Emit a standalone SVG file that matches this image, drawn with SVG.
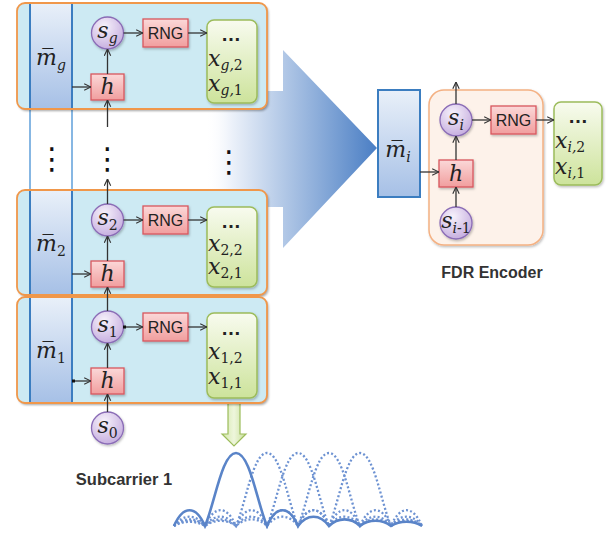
<svg xmlns="http://www.w3.org/2000/svg" width="613" height="536" viewBox="0 0 613 536">
<style>
.blk{fill:#cdeaf3}
.blkb{fill:none;stroke:#f0974a;stroke-width:1.8}
.col{fill:url(#colG);stroke:#3b7dc0;stroke-width:2}
.rng{fill:url(#pinkG);stroke:#d8575e;stroke-width:1.3;filter:url(#sm)}
.cir{fill:url(#purG);stroke:#8a6cb6;stroke-width:1.3;filter:url(#sm)}
.grn{fill:url(#grnG);stroke:#9cbc5b;stroke-width:1.5;filter:url(#sm)}
.lbl{font-family:"Liberation Sans",Arial,sans-serif;font-size:16px;fill:#222}
.bold{font-family:"Liberation Sans",Arial,sans-serif;font-weight:bold;fill:#333}
.mi{font-family:"DejaVu Serif","Liberation Serif",serif;font-style:italic;font-size:22px;fill:#222}
.sub{font-size:14px}
.up{font-style:normal}
.ell{font-family:"Liberation Sans",Arial,sans-serif;font-weight:bold;font-size:20px;fill:#222}
.vd{font-family:"DejaVu Sans",sans-serif;font-size:30px;fill:#111}
.cn{fill:none;stroke:#333;stroke-width:1.3;marker-end:url(#ah)}
.wv{fill:none;stroke:#5a84c8;stroke-width:2.6}
.wd{fill:none;stroke:#6d92d2;stroke-width:2.3;stroke-dasharray:2 2.2}
</style>
<defs>
<linearGradient id="colG" x1="0" y1="0" x2="0" y2="1"><stop offset="0" stop-color="#e9f0f9"/><stop offset="1" stop-color="#a6c0e6"/></linearGradient>
<linearGradient id="pinkG" x1="0" y1="0" x2="0" y2="1"><stop offset="0" stop-color="#fbd8d8"/><stop offset="1" stop-color="#f19e9e"/></linearGradient>
<radialGradient id="purG" cx="0.4" cy="0.3" r="0.8"><stop offset="0" stop-color="#f7f2fb"/><stop offset="1" stop-color="#c0a6dc"/></radialGradient>
<linearGradient id="grnG" x1="0" y1="0" x2="0" y2="1"><stop offset="0" stop-color="#f8fbef"/><stop offset="1" stop-color="#cde39b"/></linearGradient>
<linearGradient id="garrG" x1="0" y1="0" x2="1" y2="0"><stop offset="0" stop-color="#d2e6a8"/><stop offset="0.5" stop-color="#eef6dc"/><stop offset="1" stop-color="#c8df98"/></linearGradient>
<linearGradient id="bigG" gradientUnits="userSpaceOnUse" x1="205" y1="0" x2="377" y2="0"><stop offset="0" stop-color="#ffffff" stop-opacity="0"/><stop offset="0.15" stop-color="#edf2fa"/><stop offset="1" stop-color="#4a7ec4"/></linearGradient>
<filter id="sh" x="-5%" y="-5%" width="112%" height="120%"><feDropShadow dx="1.5" dy="2" stdDeviation="1.3" flood-color="#000" flood-opacity="0.35"/></filter>
<filter id="sm" x="-20%" y="-20%" width="150%" height="150%"><feDropShadow dx="1" dy="1.5" stdDeviation="0.8" flood-color="#000" flood-opacity="0.25"/></filter>
<marker id="ah" viewBox="0 0 10 10" refX="9.5" refY="5" markerWidth="8" markerHeight="8" markerUnits="userSpaceOnUse" orient="auto"><path d="M1,1 L9.5,5 L1,9" fill="none" stroke="#333" stroke-width="1.4"/></marker>
</defs>
<rect width="613" height="536" fill="#ffffff"/>

<g id="big-arrow"><polygon points="110,91 283,91 283,50 377,148 283,248 283,207 110,207" fill="url(#bigG)"/></g>

<g id="column-outline"><rect x="30" y="3" width="42" height="400" fill="none" stroke="#6aa6dc" stroke-width="1.6"/></g>

<g id="green-arrow"><polygon points="228,400 240,400 240,434 246,434 234,446 222,434 228,434" fill="url(#garrG)" stroke="#9cbc5b" stroke-width="1.2"/></g>

<g id="block-g" transform="translate(0,3)">
<rect class="blk" x="17" y="0" width="250" height="106" rx="8" filter="url(#sh)"/>
<rect class="col" x="30" y="0" width="42" height="106"/>
<rect class="blkb" x="17" y="0" width="250" height="106" rx="8"/>
<text class="mi" x="51" y="62" text-anchor="middle">m&#x305;<tspan class="sub" dy="5">g</tspan></text>
<circle class="cir" cx="107.5" cy="30" r="16"/>
<text class="mi" x="107.5" y="35" text-anchor="middle">s<tspan class="sub" dy="5">g</tspan></text>
<rect class="rng" x="143" y="16" width="45" height="28"/>
<text class="lbl" x="165.5" y="36" text-anchor="middle">RNG</text>
<rect class="rng" x="91" y="71" width="33" height="26"/>
<text class="mi" x="107.5" y="91" text-anchor="middle">h</text>
<rect class="grn" x="207" y="17" width="50" height="83" rx="7"/>
<text class="ell" x="231" y="38" text-anchor="middle">…</text>
<text class="mi" x="208" y="63">x<tspan class="sub" dy="4">g,<tspan class="up">2</tspan></tspan></text>
<text class="mi" x="208" y="88">x<tspan class="sub" dy="4">g,<tspan class="up">1</tspan></tspan></text>
</g>

<g id="gap-dots">
<text class="vd" x="52" y="169" text-anchor="middle">⋮</text>
<text class="vd" x="107.5" y="169" text-anchor="middle">⋮</text>
<text class="vd" x="229" y="172" text-anchor="middle">⋮</text>
</g>

<g id="block-2" transform="translate(0,190)">
<rect class="blk" x="17" y="0" width="250" height="105" rx="8" filter="url(#sh)"/>
<rect class="col" x="30" y="0" width="42" height="105"/>
<rect class="blkb" x="17" y="0" width="250" height="105" rx="8"/>
<text class="mi" x="51" y="61" text-anchor="middle">m&#x305;<tspan class="sub up" dy="5">2</tspan></text>
<circle class="cir" cx="107.5" cy="30" r="16"/>
<text class="mi" x="107.5" y="35" text-anchor="middle">s<tspan class="sub up" dy="5">2</tspan></text>
<rect class="rng" x="143" y="16" width="45" height="28"/>
<text class="lbl" x="165.5" y="36" text-anchor="middle">RNG</text>
<rect class="rng" x="91" y="71" width="33" height="26"/>
<text class="mi" x="107.5" y="91" text-anchor="middle">h</text>
<rect class="grn" x="207" y="17" width="50" height="80" rx="7"/>
<text class="ell" x="231" y="38" text-anchor="middle">…</text>
<text class="mi" x="208" y="61">x<tspan class="sub up" dy="4">2,2</tspan></text>
<text class="mi" x="208" y="84">x<tspan class="sub up" dy="4">2,1</tspan></text>
</g>

<g id="block-1" transform="translate(0,297)">
<rect class="blk" x="17" y="0" width="250" height="106" rx="8" filter="url(#sh)"/>
<rect class="col" x="30" y="0" width="42" height="106"/>
<rect class="blkb" x="17" y="0" width="250" height="106" rx="8"/>
<text class="mi" x="51" y="61" text-anchor="middle">m&#x305;<tspan class="sub up" dy="5">1</tspan></text>
<circle class="cir" cx="107.5" cy="30" r="16"/>
<text class="mi" x="107.5" y="35" text-anchor="middle">s<tspan class="sub up" dy="5">1</tspan></text>
<rect class="rng" x="143" y="16" width="45" height="28"/>
<text class="lbl" x="165.5" y="36" text-anchor="middle">RNG</text>
<rect class="rng" x="91" y="71" width="33" height="26"/>
<text class="mi" x="107.5" y="91" text-anchor="middle">h</text>
<rect class="grn" x="207" y="16" width="50" height="85" rx="7"/>
<text class="ell" x="231" y="38" text-anchor="middle">…</text>
<text class="mi" x="208" y="62">x<tspan class="sub up" dy="4">1,2</tspan></text>
<text class="mi" x="208" y="87">x<tspan class="sub up" dy="4">1,1</tspan></text>
</g>

<g id="s0">
<circle class="cir" cx="107.5" cy="428" r="16"/>
<text class="mi" x="107.5" y="433" text-anchor="middle">s<tspan class="sub up" dy="5">0</tspan></text>
</g>

<g id="m-i">
<rect class="col" x="378" y="90" width="42" height="107"/>
<text class="mi" x="398" y="157" text-anchor="middle">m&#x305;<tspan class="sub" dy="5">i</tspan></text>
</g>

<g id="fdr-encoder">
<rect x="429" y="90" width="114" height="155" rx="15" fill="#fdf2ea" stroke="#f4b183" stroke-width="1.5" filter="url(#sm)"/>
<circle class="cir" cx="456" cy="120" r="16"/>
<text class="mi" x="456" y="125" text-anchor="middle">s<tspan class="sub" dy="5">i</tspan></text>
<rect class="rng" x="491" y="106" width="45" height="28"/>
<text class="lbl" x="513.5" y="126" text-anchor="middle">RNG</text>
<rect class="rng" x="439" y="160" width="34" height="27"/>
<text class="mi" x="456" y="181" text-anchor="middle">h</text>
<circle class="cir" cx="456" cy="223" r="16"/>
<text class="mi" x="456" y="228" text-anchor="middle">s<tspan class="sub" dy="5">i-<tspan class="up">1</tspan></tspan></text>
<text class="bold" x="492" y="278" text-anchor="middle" font-size="16">FDR Encoder</text>
</g>

<g id="x-i">
<rect class="grn" x="554" y="102" width="48" height="83" rx="7"/>
<text class="ell" x="578" y="123" text-anchor="middle">…</text>
<text class="mi" x="555" y="148">x<tspan class="sub" dy="4">i,<tspan class="up">2</tspan></tspan></text>
<text class="mi" x="555" y="174">x<tspan class="sub" dy="4">i,<tspan class="up">1</tspan></tspan></text>
</g>

<g id="connectors">
<path class="cn" d="M72,87 H91"/>
<path class="cn" d="M107.5,74 V49"/>
<path class="cn" d="M123.5,33 H143"/>
<path class="cn" d="M188,33 H207"/>
<path class="cn" d="M107.5,127 V100"/>
<path class="cn" d="M107.5,204 V179"/>
<path class="cn" d="M72,274 H91"/>
<path class="cn" d="M107.5,261 V236"/>
<path class="cn" d="M123.5,220 H143"/>
<path class="cn" d="M188,220 H207"/>
<path class="cn" d="M107.5,311 V287"/>
<path class="cn" d="M72,381 H91"/>
<path class="cn" d="M107.5,368 V343"/>
<path class="cn" d="M123.5,327 H143"/>
<path class="cn" d="M188,327 H207"/>
<path class="cn" d="M107.5,412 V394"/>
<rect x="72" y="379.5" width="3" height="3" fill="#111"/>
<rect x="123" y="325.5" width="3" height="3" fill="#111"/>
<path class="cn" d="M456,104 V82"/>
<path class="cn" d="M420,172 H439"/>
<path class="cn" d="M456,160 V136"/>
<path class="cn" d="M472,120 H491"/>
<path class="cn" d="M536,120 H554"/>
<path class="cn" d="M456,207 V187"/>
</g>

<g id="spectrum">
<path class="wd" d="M174,526 C183,513.6 196,513.6 205,526 C214,504.9 227,504.9 236,526 C246,502.5 253,453 267,453 C281,453 288,502.5 298,526 C307,504.9 320,504.9 329,526 C338,513.6 351,513.6 360,526 C369,517.2 382,517.2 391,526 C400,519.1 413,519.1 422,526"/>
<path class="wd" d="M174,526 C183,517.2 196,517.2 205,526 C214,513.6 227,513.6 236,526 C245,504.9 258,504.9 267,526 C277,502.5 284,453 298,453 C312,453 319,502.5 329,526 C338,504.9 351,504.9 360,526 C369,513.6 382,513.6 391,526 C400,517.2 413,517.2 422,526"/>
<path class="wd" d="M174,526 C183,519.1 196,519.1 205,526 C214,517.2 227,517.2 236,526 C245,513.6 258,513.6 267,526 C276,504.9 289,504.9 298,526 C308,502.5 315,453 329,453 C343,453 350,502.5 360,526 C369,504.9 382,504.9 391,526 C400,513.6 413,513.6 422,526"/>
<path class="wd" d="M174,526 C183,520.4 196,520.4 205,526 C214,519.1 227,519.1 236,526 C245,517.2 258,517.2 267,526 C276,513.6 289,513.6 298,526 C307,504.9 320,504.9 329,526 C339,502.5 346,453 360,453 C374,453 381,502.5 391,526 C400,504.9 413,504.9 422,526"/>
<path class="wv" d="M174,526 C183,504.9 196,504.9 205,526 C215,502.5 222,453 236,453 C250,453 257,502.5 267,526 C276,504.9 289,504.9 298,526 C307,513.6 320,513.6 329,526 C338,517.2 351,517.2 360,526 C369,519.1 382,519.1 391,526 C400,520.4 413,520.4 422,526"/>
</g>

<g id="caption"><text class="bold" x="124" y="485" text-anchor="middle" font-size="16.5">Subcarrier 1</text></g>
</svg>
